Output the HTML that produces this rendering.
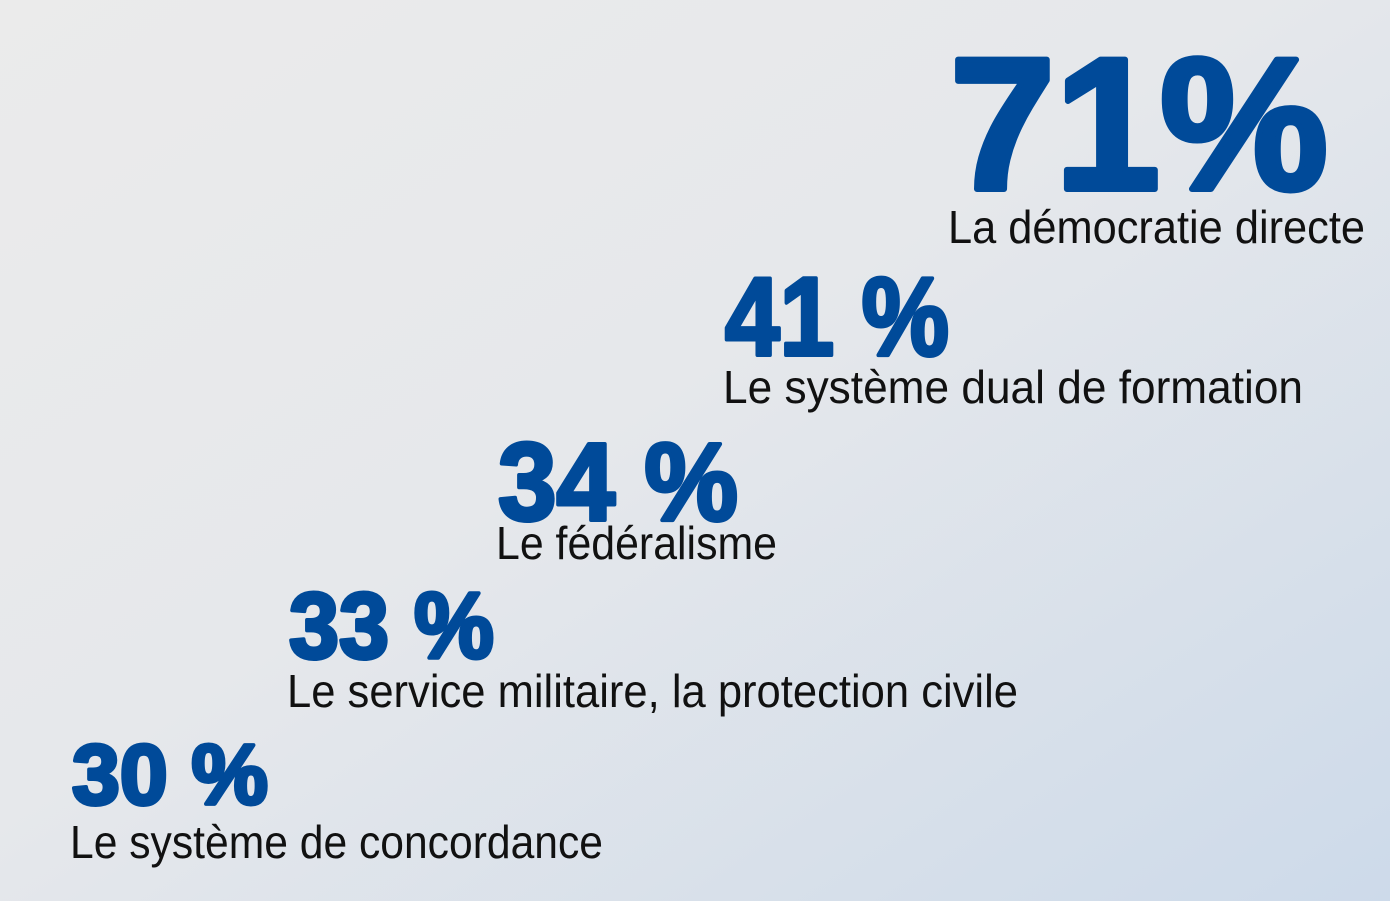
<!DOCTYPE html>
<html><head><meta charset="utf-8">
<style>
html,body{margin:0;padding:0;width:1390px;height:901px;overflow:hidden}
svg{display:block}
.n{font-family:"Liberation Sans",sans-serif;font-weight:bold;fill:#004a99;stroke:#004a99;stroke-linejoin:round}
.l{font-family:"Liberation Sans",sans-serif;fill:#111}
</style></head><body>
<svg width="1390" height="901" viewBox="0 0 1390 901" xmlns="http://www.w3.org/2000/svg">
<defs><linearGradient id="g" x1="0" y1="0" x2="1" y2="1">
<stop offset="0" stop-color="#ebebeb"/><stop offset="0.45" stop-color="#e6e8eb"/><stop offset="1" stop-color="#cddaea"/></linearGradient></defs>
<rect width="1390" height="901" fill="url(#g)"/>
<text class="n" x="950" y="189" font-size="188" stroke-width="6" textLength="378" lengthAdjust="spacingAndGlyphs">71%</text>
<text class="l" x="948" y="243" font-size="46" textLength="417" lengthAdjust="spacingAndGlyphs">La démocratie directe</text>
<text class="n" x="725" y="355" font-size="111" stroke-width="4" textLength="224" lengthAdjust="spacingAndGlyphs">41 %</text>
<text class="l" x="723" y="403" font-size="46" textLength="580" lengthAdjust="spacingAndGlyphs">Le système dual de formation</text>
<text class="n" x="498" y="520" font-size="110" stroke-width="4" textLength="240" lengthAdjust="spacingAndGlyphs">34 %</text>
<text class="l" x="496" y="559" font-size="46" textLength="281" lengthAdjust="spacingAndGlyphs">Le fédéralisme</text>
<text class="n" x="289" y="658" font-size="94" stroke-width="4" textLength="205" lengthAdjust="spacingAndGlyphs">33 %</text>
<text class="l" x="287" y="707" font-size="46" textLength="731" lengthAdjust="spacingAndGlyphs">Le service militaire, la protection civile</text>
<text class="n" x="72" y="804" font-size="85" stroke-width="4" textLength="196" lengthAdjust="spacingAndGlyphs">30 %</text>
<text class="l" x="70" y="858" font-size="46" textLength="533" lengthAdjust="spacingAndGlyphs">Le système de concordance</text>
</svg>
</body></html>
